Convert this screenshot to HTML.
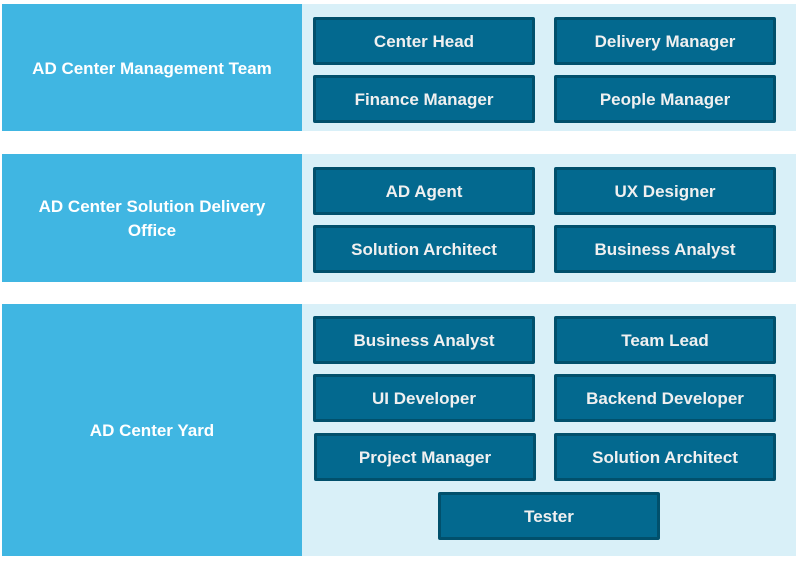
<html><head><style>
body{margin:0;width:798px;height:562px;background:#fff;position:relative;font-family:"Liberation Sans",sans-serif;font-weight:bold;overflow:hidden}
div{position:absolute;box-sizing:border-box}
.l{background:#40b6e2;color:#fff;font-size:17px;display:flex;align-items:center;justify-content:center;text-align:center;line-height:24px;left:2px;width:300px;padding-top:2px}
.r{background:#d9f0f8;left:302px;width:494px}
.b{background:#03698f;border:3px solid #01506c;border-radius:2px;color:#f0f0f0;font-size:17px;display:flex;align-items:center;justify-content:center;width:222px;height:48px;padding-top:2px}
</style></head><body>
<div class="l" style="top:4px;height:127px">AD Center Management Team</div>
<div class="r" style="top:4px;height:127px"></div>
<div class="b" style="left:313px;top:17px">Center Head</div>
<div class="b" style="left:554px;top:17px">Delivery Manager</div>
<div class="b" style="left:313px;top:75px">Finance Manager</div>
<div class="b" style="left:554px;top:75px">People Manager</div>

<div class="l" style="top:154px;height:128px">AD Center Solution Delivery<br>Office</div>
<div class="r" style="top:154px;height:128px"></div>
<div class="b" style="left:313px;top:167px">AD Agent</div>
<div class="b" style="left:554px;top:167px">UX Designer</div>
<div class="b" style="left:313px;top:225px">Solution Architect</div>
<div class="b" style="left:554px;top:225px">Business Analyst</div>

<div class="l" style="top:304px;height:252px">AD Center Yard</div>
<div class="r" style="top:304px;height:252px"></div>
<div class="b" style="left:313px;top:316px">Business Analyst</div>
<div class="b" style="left:554px;top:316px">Team Lead</div>
<div class="b" style="left:313px;top:374px">UI Developer</div>
<div class="b" style="left:554px;top:374px">Backend Developer</div>
<div class="b" style="left:314px;top:433px">Project Manager</div>
<div class="b" style="left:554px;top:433px">Solution Architect</div>
<div class="b" style="left:438px;top:492px">Tester</div>
</body></html>
